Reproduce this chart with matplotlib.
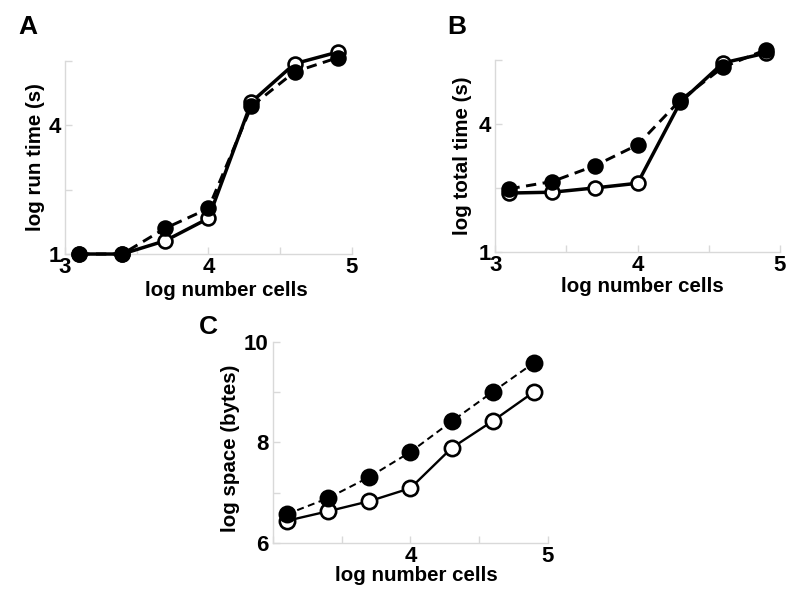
import numpy as np
import matplotlib
matplotlib.use('Agg')
import matplotlib.pyplot as plt

plt.rcParams['font.family'] = ['Liberation Sans', 'DejaVu Sans']
plt.rcParams['font.weight'] = 'bold'

# log10 of number of cells
cells = [3.1, 3.4, 3.7, 4.0, 4.3, 4.6, 4.9]

# A: log run time (s)
run_filled = [1.0, 1.0, 1.60, 2.06, 4.44, 5.24, 5.57]
run_open = [1.0, 1.0, 1.31, 1.83, 4.54, 5.43, 5.70]

# B: log total time (s)
tot_filled = [2.48, 2.65, 3.02, 3.51, 4.56, 5.33, 5.74]
tot_open = [2.38, 2.40, 2.50, 2.61, 4.51, 5.43, 5.66]

# C: log space (bytes)
spc_filled = [6.57, 6.89, 7.31, 7.81, 8.42, 9.01, 9.59]
spc_open = [6.44, 6.63, 6.83, 7.09, 7.89, 8.43, 9.01]

grey = '#d9d9d9'
fs = 14.8
tfs = 16

fig = plt.figure(figsize=(8, 5.97), dpi=100)
axA = fig.add_axes([0.081, 0.5745, 0.359, 0.3238])
axB = fig.add_axes([0.619, 0.578, 0.356, 0.3216])
axC = fig.add_axes([0.341, 0.0905, 0.344, 0.3367])


def style(ax, ylim, yticks, ylabs, xticks, xlabs):
    ax.set_xlim(3, 5)
    ax.set_ylim(*ylim)
    for s in ['top', 'right']:
        ax.spines[s].set_visible(False)
    for s in ['left', 'bottom']:
        ax.spines[s].set_color(grey)
        ax.spines[s].set_linewidth(1.0)
    ax.set_yticks(yticks)
    ax.set_yticklabels(ylabs)
    ax.set_xticks(xticks)
    ax.set_xticklabels(xlabs)
    ax.tick_params(direction='in', color=grey, length=5, width=1,
                   labelsize=tfs, pad=3)
    ax.tick_params(axis='x', pad=2)
    for t in ax.get_xticklabels() + ax.get_yticklabels():
        t.set_fontweight('bold')


def draw(ax, yo, yf, lw, ms):
    ax.plot(cells, yo, '-', color='k', lw=lw, marker='o', ms=ms,
            mfc='white', mec='k', mew=1.9, clip_on=False, zorder=3)
    ax.plot(cells, yf, '--', color='k', lw=lw * 0.85, marker='o', ms=ms,
            mfc='k', mec='k', mew=1.9, clip_on=False, zorder=4,
            dashes=(3.5, 2.2))


draw(axA, run_open, run_filled, 2.5, 10)
style(axA, (1, 5.5), [1, 2.5, 4, 5.5], ['1', '', '4', ''],
      [3, 3.5, 4, 4.5, 5], ['3', '', '4', '', '5'])
axA.set_ylabel('log run time (s)', fontsize=fs, fontweight='bold')
axA.yaxis.set_label_coords(-0.07, 0.5)
axA.set_xlabel('log number cells', fontsize=fs, fontweight='bold')
axA.xaxis.set_label_coords(0.561, -0.14)

draw(axB, tot_open, tot_filled, 2.5, 10)
style(axB, (1, 5.5), [1, 2.5, 4, 5.5], ['1', '', '4', ''],
      [3, 3.5, 4, 4.5, 5], ['3', '', '4', '', '5'])
axB.set_ylabel('log total time (s)', fontsize=fs, fontweight='bold')
axB.yaxis.set_label_coords(-0.081, 0.5)
axB.set_xlabel('log number cells', fontsize=fs, fontweight='bold')
axB.xaxis.set_label_coords(0.516, -0.13)

draw(axC, spc_open, spc_filled, 1.7, 11)
style(axC, (6, 10), [6, 7, 8, 9, 10], ['6', '', '8', '', '10'],
      [3, 3.5, 4, 4.5, 5], ['', '', '4', '', '5'])
axC.set_ylabel('log space (bytes)', fontsize=fs, fontweight='bold')
axC.yaxis.set_label_coords(-0.12, 0.47)
axC.set_xlabel('log number cells', fontsize=fs, fontweight='bold')
axC.xaxis.set_label_coords(0.52, -0.115)

for lab, x, y in [('A', 18, 15), ('B', 447, 15), ('C', 199, 315)]:
    fig.text(x / 800, 1 - y / 597, lab, fontsize=19, fontweight='bold',
             ha='left', va='top')

fig.savefig('out.png', dpi=100)
